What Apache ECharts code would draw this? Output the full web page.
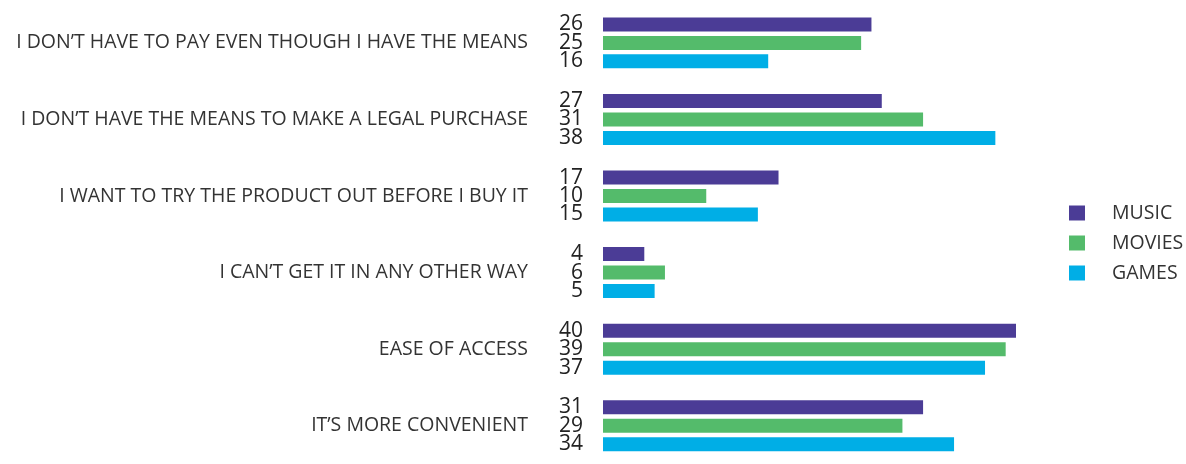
<!DOCTYPE html>
<html>
<head>
<meta charset="utf-8">
<script src="https://cdn.jsdelivr.net/npm/echarts@6/dist/echarts.min.js"></script>
<style>
  html, body { margin: 0; padding: 0; background: #fff; }
  #chart { width: 1186px; height: 464px; }
</style>
</head>
<body>
<div id="chart"></div>
<script>
var reasons = [
  'I DON’T HAVE TO PAY EVEN THOUGH I HAVE THE MEANS',
  'I DON’T HAVE THE MEANS TO MAKE A LEGAL PURCHASE',
  'I WANT TO TRY THE PRODUCT OUT BEFORE I BUY IT',
  'I CAN’T GET IT IN ANY OTHER WAY',
  'EASE OF ACCESS',
  'IT’S MORE CONVENIENT'
];
// percentages per reason
var music = [26, 27, 17, 4, 40, 31];
var movies = [25, 31, 10, 6, 39, 29];
var games = [16, 38, 15, 5, 37, 34];

var seriesNames = ['MUSIC', 'MOVIES', 'GAMES'];
var colors = ['#4b3c96', '#54bb6b', '#00aee6'];

var myChart = echarts.init(document.getElementById('chart'));

var valueLabel = {
  show: true,
  position: 'left',
  distance: 20,
  color: '#222',
  fontFamily: 'Open Sans',
  fontSize: 21
};

function makeSeries(name, data, color) {
  return {
    name: name,
    type: 'bar',
    data: data,
    barWidth: 14,
    barGap: '32%',
    itemStyle: { color: color },
    label: valueLabel
  };
}

var option = {
  backgroundColor: '#fff',
  animation: false,
  color: colors,
  grid: {
    left: 603,
    right: 170,
    top: 4.6,
    bottom: -7.4
  },
  legend: {
    orient: 'vertical',
    left: 1069,
    top: 203,
    padding: 0,
    itemWidth: 16,
    itemHeight: 15,
    itemGap: 10,
    icon: 'rect',
    data: seriesNames,
    textStyle: {
      color: '#333',
      fontFamily: 'Open Sans',
      fontSize: 19.5,
      padding: [0, 0, 0, 22]
    }
  },
  xAxis: {
    type: 'value',
    min: 0,
    max: 40,
    show: false,
    splitLine: { show: false }
  },
  yAxis: {
    type: 'category',
    inverse: true,
    data: reasons,
    axisLine: { show: false },
    axisTick: { show: false },
    axisLabel: {
      margin: 75,
      color: '#333',
      fontFamily: 'Open Sans',
      fontSize: 19.5
    }
  },
  series: [
    makeSeries(seriesNames[0], music, colors[0]),
    makeSeries(seriesNames[1], movies, colors[1]),
    makeSeries(seriesNames[2], games, colors[2])
  ]
};
myChart.setOption(option);
</script>
</body>
</html>
